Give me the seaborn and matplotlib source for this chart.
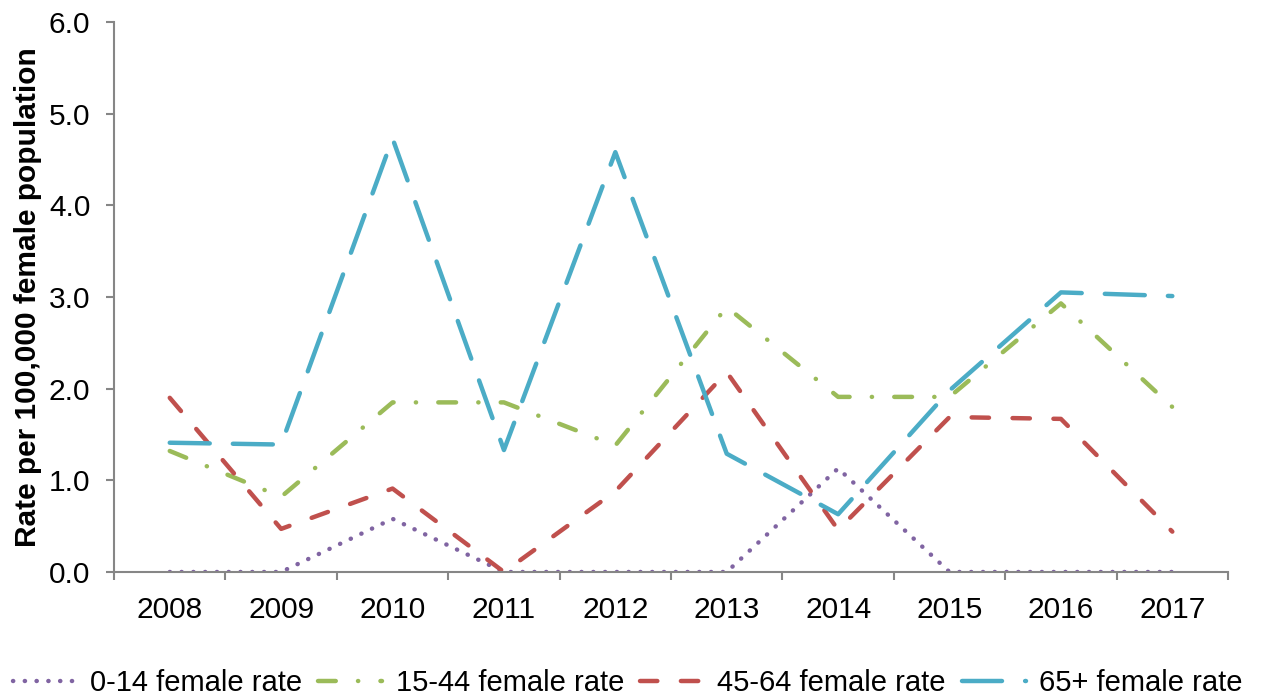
import matplotlib
matplotlib.use("Agg")
import matplotlib.pyplot as plt
import seaborn as sns
import pandas as pd

# -------------------------
# Data
# -------------------------
years = ["2008", "2009", "2010", "2011", "2012", "2013", "2014", "2015", "2016", "2017"]
rate_0_14 = [0.0, 0.0, 0.58, 0.0, 0.0, 0.0, 1.13, 0.0, 0.0, 0.0]
rate_15_44 = [1.32, 0.82, 1.85, 1.85, 1.38, 2.89, 1.91, 1.91, 2.93, 1.80]
rate_45_64 = [1.90, 0.47, 0.91, 0.0, 0.88, 2.18, 0.46, 1.69, 1.67, 0.44]
rate_65 = [1.41, 1.39, 4.73, 1.33, 4.58, 1.29, 0.63, 1.98, 3.05, 3.01]

series_names = ["0-14 female rate", "15-44 female rate", "45-64 female rate", "65+ female rate"]
series_values = [rate_0_14, rate_15_44, rate_45_64, rate_65]

colors = ["#8064A2", "#9BBB59", "#C0504D", "#4BACC6"]
# dash patterns in linewidth units (lw = 3.2 pt)
dash_styles = [
    (0, (0.05, 2.6)),
    (0, (4.0, 5.0, 0.05, 5.0)),
    (0, (3.9, 5.3)),
    (0, (9.0, 5.2)),
]
LW = 3.2

sns.set_theme(style="white")
plt.rcParams["font.family"] = ["Liberation Sans", "DejaVu Sans"]
plt.rcParams["text.color"] = "black"
plt.rcParams["axes.labelcolor"] = "black"
plt.rcParams["xtick.color"] = "black"
plt.rcParams["ytick.color"] = "black"

AXIS_GRAY = "#868686"

fig = plt.figure(figsize=(12.63, 7.0), dpi=100)
ax = fig.add_axes([0.0903, 0.1829, 0.9723 - 0.0903, 0.9686 - 0.1829])

df = pd.DataFrame({"year": years})
for name, vals, col, ls in zip(series_names, series_values, colors, dash_styles):
    df[name] = vals
    sns.lineplot(data=df, x="year", y=name, ax=ax, color=col, linewidth=LW,
                 linestyle=ls, label=name, sort=False)

for line in ax.lines:
    line.set_dash_capstyle("round")
    line.set_solid_capstyle("round")
    line.set_linewidth(LW)

ax.set_xlim(-0.5, len(years) - 0.5)
ax.set_ylim(0, 6.0)
ax.set_yticks([0, 1, 2, 3, 4, 5, 6])
ax.set_yticklabels([f"{v:.1f}" for v in range(7)])
ax.set_xlabel("")
ax.set_ylabel("Rate per 100,000 female population", fontsize=21.5, fontweight="bold",
              labelpad=5, color="black")

# spines
for s in ["top", "right"]:
    ax.spines[s].set_visible(False)
for s in ["left", "bottom"]:
    ax.spines[s].set_color(AXIS_GRAY)
    ax.spines[s].set_linewidth(1.5)

# x ticks: labels at categories, tick marks at boundaries
ax.set_xticks(range(len(years)))
ax.set_xticklabels(years)
ax.set_xticks([i - 0.5 for i in range(len(years) + 1)], minor=True)
ax.tick_params(axis="x", which="major", length=0, pad=17, labelsize=21.5)
ax.tick_params(axis="x", which="minor", length=6, width=1.5, color=AXIS_GRAY, direction="out",
               bottom=True)
ax.tick_params(axis="y", which="major", length=6, width=1.5, color=AXIS_GRAY, direction="out",
               pad=11, labelsize=21.5, left=True)

leg = ax.legend(loc="lower center", bbox_to_anchor=(0.497, -0.012), bbox_transform=fig.transFigure,
                ncol=4, frameon=False, fontsize=21, handlelength=2.2, handletextpad=0.45,
                columnspacing=0.55, borderaxespad=0)
for h in leg.get_lines():
    h.set_dash_capstyle("round")
    h.set_solid_capstyle("round")
    h.set_linewidth(LW)

plt.savefig("out.png", dpi=100)
plt.close()
